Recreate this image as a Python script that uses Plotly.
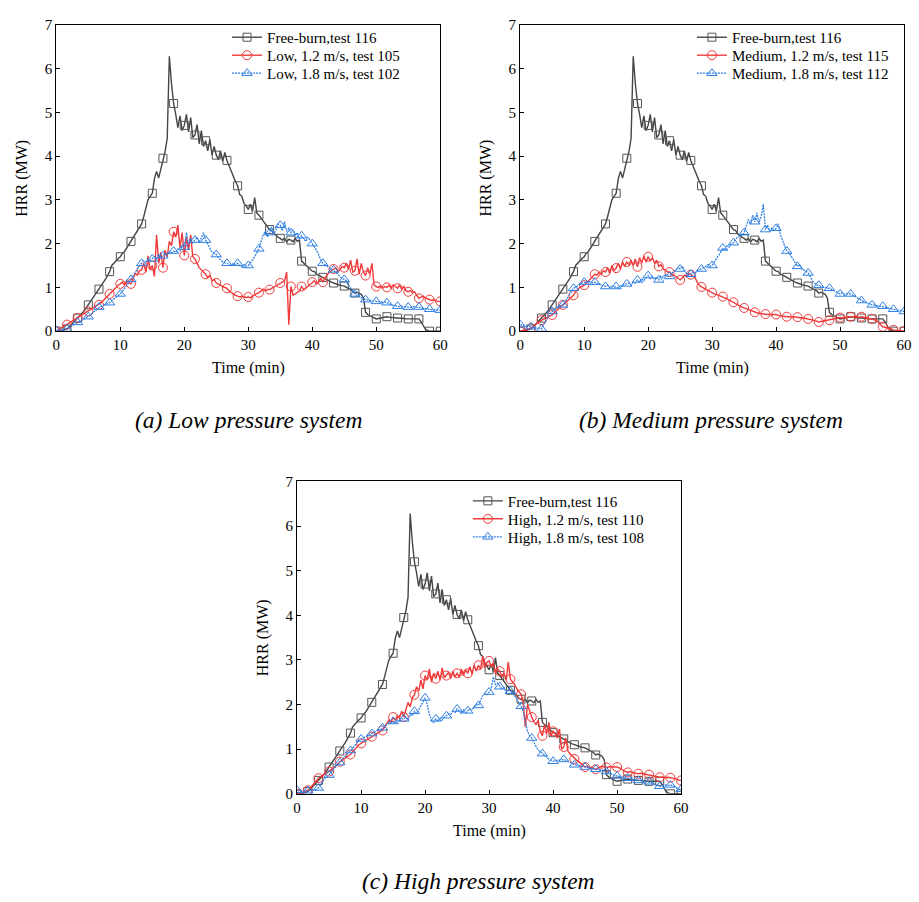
import plotly.graph_objects as go

# Heat release rate (MW) sampled every 20 s from t = 0 to 60 min.
SAMPLE_MIN = 1 / 3
MARK_EVERY = 5  # one symbol every 100 s

FREE_BURN_116 = [
    0.00, 0.00, 0.01, 0.02, 0.03, 0.05, 0.09, 0.14, 0.20, 0.25, 0.30, 0.35, 0.40, 0.46, 0.53,
    0.60, 0.68, 0.76, 0.83, 0.90, 0.96, 1.03, 1.10, 1.18, 1.27, 1.36, 1.50, 1.56, 1.60, 1.66,
    1.70, 1.78, 1.82, 1.90, 1.96, 2.05, 2.12, 2.20, 2.30, 2.36, 2.45, 2.62, 2.82, 3.00, 3.08,
    3.15, 3.48, 3.65, 3.50, 3.72, 3.95, 4.10, 4.40, 6.28, 5.65, 5.20, 4.95, 4.65, 4.92, 4.58,
    4.70, 4.95, 4.55, 4.88, 4.42, 4.48, 4.72, 4.28, 4.58, 4.22, 4.35, 4.12, 4.38, 4.02, 4.22,
    4.02, 3.92, 4.12, 3.88, 4.08, 3.90, 3.78, 3.62, 3.52, 3.42, 3.32, 3.12, 3.08, 2.92, 2.86,
    2.78, 2.90, 2.74, 3.05, 2.70, 2.65, 2.58, 2.52, 2.45, 2.40, 2.32, 2.30, 2.22, 2.20, 2.14,
    2.12, 2.08, 2.12, 2.04, 2.10, 2.08, 2.04, 2.12, 2.05, 2.08, 1.60, 1.55, 1.50, 1.46, 1.40,
    1.37, 1.36, 1.30, 1.28, 1.25, 1.23, 1.20, 1.17, 1.14, 1.12, 1.10, 1.08, 1.07, 1.05, 1.04,
    1.03, 1.00, 0.98, 0.95, 0.92, 0.87, 0.89, 0.86, 0.84, 0.76, 0.43, 0.38, 0.35, 0.32, 0.30,
    0.28, 0.29, 0.30, 0.31, 0.32, 0.33, 0.32, 0.31, 0.31, 0.30, 0.30, 0.30, 0.29, 0.29, 0.28,
    0.28, 0.28, 0.28, 0.29, 0.28, 0.28, 0.22, 0.12, 0.05, 0.02, 0.00, 0.00, 0.00, 0.00, 0.00,
    0.00,
]

LOW_12_TEST_105 = [
    0.00, 0.03, 0.06, 0.10, 0.12, 0.15, 0.18, 0.22, 0.25, 0.28, 0.30, 0.33, 0.36, 0.40, 0.42,
    0.45, 0.48, 0.52, 0.55, 0.57, 0.60, 0.65, 0.70, 0.76, 0.80, 0.85, 0.90, 0.96, 1.00, 1.05,
    1.08, 1.12, 1.05, 1.15, 1.10, 1.08, 1.20, 1.32, 1.28, 1.38, 1.40, 1.55, 1.35, 1.72, 1.40,
    1.50, 1.25, 2.20, 1.55, 1.80, 1.45, 1.85, 1.70, 2.05, 1.95, 2.27, 2.15, 2.42, 1.90, 2.25,
    1.73, 2.15, 1.85, 2.20, 1.70, 1.65, 1.55, 1.45, 1.40, 1.35, 1.30, 1.22, 1.28, 1.15, 1.18,
    1.10, 1.08, 1.05, 1.02, 1.00, 0.98, 0.92, 0.88, 0.85, 0.82, 0.80, 0.78, 0.80, 0.78, 0.77,
    0.78, 0.76, 0.80, 0.84, 0.86, 0.88, 0.92, 0.96, 0.92, 0.95, 0.95, 0.98, 1.00, 1.04, 1.08,
    1.10, 1.12, 1.15, 1.35, 0.15, 1.02, 0.82, 0.85, 0.88, 0.92, 1.02, 0.95, 0.98, 1.02, 1.08,
    1.12, 1.15, 1.08, 1.12, 1.20, 1.12, 1.22, 1.30, 1.35, 1.38, 1.42, 1.45, 1.35, 1.40, 1.48,
    1.45, 1.55, 1.40, 1.62, 1.35, 1.38, 1.65, 1.30, 1.55, 1.35, 1.27, 1.45, 1.30, 1.55, 1.05,
    1.02, 1.00, 1.04, 0.98, 1.02, 1.00, 1.05, 0.98, 1.06, 1.02, 0.98, 1.05, 0.96, 1.02, 0.92,
    0.90, 0.93, 0.88, 0.90, 0.82, 0.75, 0.78, 0.80, 0.76, 0.74, 0.72, 0.70, 0.72, 0.69, 0.68,
    0.68,
]

LOW_18_TEST_102 = [
    0.02, 0.02, 0.03, 0.03, 0.04, 0.05, 0.08, 0.11, 0.14, 0.17, 0.20, 0.23, 0.26, 0.28, 0.30,
    0.33, 0.37, 0.42, 0.46, 0.50, 0.55, 0.57, 0.59, 0.61, 0.63, 0.65, 0.70, 0.74, 0.78, 0.82,
    0.85, 0.92, 0.98, 1.05, 1.12, 1.18, 1.26, 1.35, 1.42, 1.50, 1.55, 1.60, 1.58, 1.65, 1.62,
    1.65, 1.70, 1.66, 1.75, 1.68, 1.72, 1.78, 1.74, 1.82, 1.78, 1.83, 1.80, 1.88, 1.84, 1.95,
    1.92, 2.25, 1.98, 2.12, 2.02, 2.08, 2.15, 2.02, 2.12, 2.25, 2.08, 1.98, 1.90, 1.80, 1.78,
    1.75, 1.68, 1.62, 1.58, 1.56, 1.55, 1.52, 1.50, 1.55, 1.52, 1.55, 1.50, 1.46, 1.52, 1.48,
    1.50, 1.55, 1.62, 1.70, 1.80, 1.88, 2.05, 2.20, 2.28, 2.15, 2.25, 2.38, 2.20, 2.32, 2.45,
    2.42, 2.30, 2.50, 2.28, 2.35, 2.25, 2.32, 2.18, 2.25, 2.10, 2.18, 2.12, 2.05, 2.15, 2.08,
    2.00, 1.92, 1.85, 1.75, 1.62, 1.55, 1.52, 1.48, 1.45, 1.42, 1.40, 1.35, 1.30, 1.25, 1.20,
    1.18, 1.15, 1.05, 0.98, 0.92, 0.85, 0.82, 0.80, 0.76, 0.74, 0.72, 0.71, 0.70, 0.70, 0.69,
    0.68, 0.67, 0.68, 0.66, 0.67, 0.65, 0.63, 0.60, 0.59, 0.58, 0.57, 0.56, 0.57, 0.55, 0.56,
    0.55, 0.54, 0.55, 0.56, 0.55, 0.55, 0.53, 0.52, 0.51, 0.50, 0.50, 0.49, 0.49, 0.48, 0.48,
    0.48,
]

MEDIUM_12_TEST_115 = [
    0.00, 0.01, 0.02, 0.03, 0.05, 0.07, 0.10, 0.14, 0.18, 0.22, 0.25, 0.28, 0.30, 0.33, 0.35,
    0.37, 0.42, 0.47, 0.52, 0.56, 0.60, 0.64, 0.68, 0.73, 0.78, 0.82, 0.90, 0.95, 1.00, 1.02,
    1.05, 1.10, 1.15, 1.20, 1.25, 1.30, 1.28, 1.35, 1.30, 1.38, 1.35, 1.45, 1.32, 1.50, 1.38,
    1.44, 1.55, 1.42, 1.58, 1.48, 1.58, 1.52, 1.62, 1.50, 1.65, 1.47, 1.68, 1.55, 1.72, 1.58,
    1.70, 1.60, 1.68, 1.55, 1.62, 1.48, 1.52, 1.42, 1.40, 1.35, 1.35, 1.30, 1.28, 1.25, 1.20,
    1.17, 1.22, 1.28, 1.25, 1.32, 1.29, 1.25, 1.22, 1.12, 1.05, 1.01, 0.98, 0.95, 0.92, 0.90,
    0.88, 0.85, 0.84, 0.82, 0.80, 0.79, 0.76, 0.74, 0.71, 0.69, 0.66, 0.63, 0.60, 0.58, 0.55,
    0.53, 0.51, 0.49, 0.47, 0.45, 0.43, 0.42, 0.41, 0.40, 0.39, 0.39, 0.38, 0.38, 0.37, 0.38,
    0.38, 0.36, 0.35, 0.34, 0.33, 0.33, 0.33, 0.32, 0.33, 0.32, 0.32, 0.31, 0.30, 0.30, 0.29,
    0.28, 0.27, 0.26, 0.24, 0.23, 0.21, 0.22, 0.23, 0.24, 0.24, 0.25, 0.26, 0.27, 0.28, 0.30,
    0.31, 0.30, 0.32, 0.31, 0.33, 0.33, 0.32, 0.34, 0.33, 0.32, 0.33, 0.32, 0.31, 0.30, 0.29,
    0.28, 0.27, 0.25, 0.20, 0.15, 0.10, 0.09, 0.08, 0.07, 0.05, 0.03, 0.02, 0.01, 0.01, 0.00,
    0.00,
]

MEDIUM_18_TEST_112 = [
    0.15, 0.14, 0.13, 0.12, 0.11, 0.10, 0.09, 0.08, 0.07, 0.06, 0.05, 0.15, 0.25, 0.32, 0.40,
    0.45, 0.50, 0.53, 0.56, 0.58, 0.60, 0.66, 0.74, 0.82, 0.90, 0.98, 1.00, 1.05, 1.08, 1.10,
    1.12, 1.10, 1.15, 1.12, 1.10, 1.12, 1.08, 1.10, 1.05, 1.04, 1.02, 1.05, 1.00, 1.03, 1.00,
    1.02, 0.98, 1.05, 1.02, 1.08, 1.08, 1.10, 1.05, 1.12, 1.10, 1.17, 1.12, 1.20, 1.15, 1.22,
    1.27, 1.20, 1.25, 1.18, 1.24, 1.17, 1.26, 1.22, 1.30, 1.25, 1.25, 1.32, 1.35, 1.40, 1.45,
    1.42, 1.48, 1.38, 1.32, 1.28, 1.30, 1.35, 1.32, 1.38, 1.40, 1.42, 1.45, 1.48, 1.52, 1.48,
    1.50, 1.58, 1.65, 1.72, 1.80, 1.90, 1.85, 1.95, 1.92, 2.00, 2.02, 2.10, 2.15, 2.20, 2.18,
    2.25, 2.40, 2.55, 2.45, 2.65, 2.50, 2.70, 2.48, 2.62, 2.90, 2.32, 2.42, 2.28, 2.35, 2.30,
    2.35, 2.45, 2.20, 2.05, 1.95, 1.83, 1.80, 1.72, 1.65, 1.58, 1.48, 1.52, 1.42, 1.40, 1.36,
    1.33, 1.25, 1.15, 1.10, 1.05, 1.05, 1.02, 1.00, 1.00, 0.98, 0.98, 0.95, 0.92, 0.90, 0.88,
    0.85, 0.88, 0.84, 0.86, 0.85, 0.85, 0.82, 0.80, 0.76, 0.74, 0.70, 0.68, 0.66, 0.64, 0.62,
    0.60, 0.60, 0.58, 0.58, 0.57, 0.57, 0.55, 0.54, 0.52, 0.51, 0.50, 0.49, 0.48, 0.46, 0.45,
    0.45,
]

HIGH_12_TEST_110 = [
    0.00, 0.01, 0.02, 0.04, 0.06, 0.08, 0.12, 0.18, 0.25, 0.30, 0.35, 0.38, 0.42, 0.45, 0.47,
    0.50, 0.55, 0.58, 0.62, 0.68, 0.72, 0.75, 0.78, 0.82, 0.86, 0.88, 0.94, 1.00, 1.05, 1.10,
    1.13, 1.16, 1.18, 1.22, 1.26, 1.28, 1.32, 1.35, 1.38, 1.40, 1.42, 1.50, 1.58, 1.65, 1.60,
    1.72, 1.65, 1.75, 1.70, 1.85, 1.72, 1.90, 2.05, 1.95, 2.15, 2.22, 2.40, 2.30, 2.55, 2.35,
    2.65, 2.55, 2.80, 2.50, 2.70, 2.58, 2.75, 2.55, 2.82, 2.60, 2.65, 2.72, 2.58, 2.75, 2.62,
    2.70, 2.62, 2.80, 2.65, 2.78, 2.70, 2.85, 2.68, 2.88, 2.75, 2.88, 2.80, 3.08, 2.82, 2.95,
    2.98, 2.85, 2.92, 2.70, 2.80, 2.75, 2.62, 2.70, 2.55, 2.95, 2.57, 2.50, 2.45, 2.35, 2.28,
    2.23, 2.05, 1.50, 2.00, 1.85, 1.72, 1.62, 1.55, 1.65, 1.40, 1.30, 1.55, 1.35, 1.60, 1.30,
    1.40, 1.35, 1.25, 1.45, 1.00, 1.05, 1.25, 0.95, 0.90, 0.85, 0.78, 0.75, 0.72, 0.68, 0.65,
    0.60, 0.62, 0.58, 0.60, 0.56, 0.55, 0.58, 0.60, 0.62, 0.60, 0.59, 0.60, 0.61, 0.60, 0.60,
    0.60, 0.58, 0.55, 0.52, 0.50, 0.48, 0.50, 0.48, 0.47, 0.46, 0.45, 0.46, 0.45, 0.44, 0.43,
    0.43, 0.42, 0.41, 0.40, 0.38, 0.37, 0.38, 0.37, 0.36, 0.37, 0.36, 0.35, 0.34, 0.33, 0.30,
    0.30,
]

HIGH_18_TEST_108 = [
    0.08, 0.06, 0.05, 0.05, 0.06, 0.07, 0.08, 0.08, 0.09, 0.10, 0.13, 0.20, 0.28, 0.35, 0.38,
    0.42, 0.48, 0.55, 0.60, 0.65, 0.70, 0.75, 0.80, 0.85, 0.92, 0.97, 1.02, 1.08, 1.15, 1.20,
    1.23, 1.25, 1.28, 1.30, 1.32, 1.35, 1.38, 1.40, 1.45, 1.42, 1.48, 1.52, 1.55, 1.58, 1.60,
    1.62, 1.58, 1.65, 1.62, 1.68, 1.68, 1.72, 1.65, 1.78, 1.75, 1.85, 1.80, 1.88, 1.95, 2.05,
    2.15, 2.00, 1.78, 1.65, 1.60, 1.68, 1.62, 1.70, 1.65, 1.72, 1.75, 1.80, 1.78, 1.85, 1.82,
    1.90, 1.85, 1.80, 1.88, 1.82, 1.86, 1.90, 1.88, 1.95, 2.00, 1.98, 2.10, 2.20, 2.25, 2.22,
    2.28, 2.35, 2.62, 2.45, 2.48, 2.40, 2.35, 2.38, 2.28, 2.32, 2.30, 2.25, 2.20, 2.12, 2.05,
    1.96, 1.85, 1.62, 1.40, 1.30, 1.25, 1.15, 1.05, 0.98, 0.95, 0.90, 0.85, 0.82, 0.78, 0.75,
    0.73, 0.74, 0.75, 0.76, 0.77, 0.77, 0.75, 0.72, 0.70, 0.68, 0.65, 0.64, 0.62, 0.61, 0.60,
    0.60, 0.59, 0.58, 0.57, 0.56, 0.55, 0.54, 0.54, 0.53, 0.52, 0.50, 0.48, 0.45, 0.43, 0.41,
    0.40, 0.38, 0.37, 0.36, 0.35, 0.35, 0.34, 0.33, 0.32, 0.31, 0.30, 0.30, 0.29, 0.28, 0.28,
    0.27, 0.25, 0.22, 0.20, 0.18, 0.17, 0.16, 0.18, 0.20, 0.19, 0.20, 0.18, 0.15, 0.12, 0.10,
    0.10,
]

X_TICKS = [0, 10, 20, 30, 40, 50, 60]
Y_TICKS = [0, 1, 2, 3, 4, 5, 6, 7]

PANELS = [
    dict(
        title="(a) Low pressure system",
        series=[
            ("Free-burn,test 116", FREE_BURN_116),
            ("Low, 1.2 m/s, test 105", LOW_12_TEST_105),
            ("Low, 1.8 m/s, test 102", LOW_18_TEST_102),
        ],
    ),
    dict(
        title="(b) Medium pressure system",
        series=[
            ("Free-burn,test 116", FREE_BURN_116),
            ("Medium, 1.2 m/s, test 115", MEDIUM_12_TEST_115),
            ("Medium, 1.8 m/s, test 112", MEDIUM_18_TEST_112),
        ],
    ),
    dict(
        title="(c) High pressure system",
        series=[
            ("Free-burn,test 116", FREE_BURN_116),
            ("High, 1.2 m/s, test 110", HIGH_12_TEST_110),
            ("High, 1.8 m/s, test 108", HIGH_18_TEST_108),
        ],
    ),
]

# ---- styling -------------------------------------------------------------
W, H = 919, 902
SERIF = "Liberation Serif, Times New Roman, serif"
STYLES = [
    dict(color="#454545", mcolor="#555555", symbol="square-open", size=8,
         dash="solid", width=1.4),
    dict(color="#f03a3a", mcolor="#f03a3a", symbol="circle-open", size=9,
         dash="solid", width=1.4),
    dict(color="#2f7fe4", mcolor="#2f7fe4", symbol="triangle-up-open", size=9,
         dash="2px,1px", width=1.3),
]

# plot-area boxes in pixels: (left, right, top, bottom)
BOXES = [(53, 442, 17, 329), (523, 912, 17, 329), (297, 686, 482, 800)]
# legend anchor: left edge of the key line, centre of the first row
LEGEND_POS = [(226, 30), (697, 30), (470, 502)]
LEGEND_PITCH = 18.3
TITLE_POS = [(248, 419), (716, 419), (481, 889)]


def px_x(v):
    return v / W


def px_y(v):
    return 1 - v / H


fig = go.Figure()
layout = dict(
    width=W,
    height=H,
    margin=dict(l=0, r=0, t=0, b=0),
    paper_bgcolor="white",
    plot_bgcolor="white",
    font=dict(family=SERIF, color="black"),
    showlegend=True,
    annotations=[],
)

legend_count = 0
for k, panel in enumerate(PANELS):
    suffix = "" if k == 0 else str(k + 1)
    left, right, top, bottom = BOXES[k]
    lx, ly = LEGEND_POS[k]

    for j, ((name, values), st) in enumerate(zip(panel["series"], STYLES)):
        legend_count += 1
        legend_id = "legend" if legend_count == 1 else "legend%d" % legend_count
        n = len(values)
        t = [i * SAMPLE_MIN for i in range(n)]
        mcol = [st["mcolor"] if i % MARK_EVERY == 0 else "rgba(0,0,0,0)" for i in range(n)]
        fig.add_trace(
            go.Scatter(
                x=t,
                y=values,
                name=name,
                mode="lines+markers",
                line=dict(color=st["color"], width=st["width"], dash=st["dash"]),
                marker=dict(symbol=st["symbol"], size=st["size"], color=mcol,
                            line=dict(width=1)),
                xaxis="x" + suffix,
                yaxis="y" + suffix,
                legend=legend_id,
                showlegend=True,
                hoverinfo="skip",
            )
        )
        layout[legend_id] = dict(
            x=px_x(lx),
            y=px_y(ly + j * LEGEND_PITCH),
            xanchor="left",
            yanchor="middle",
            bgcolor="rgba(0,0,0,0)",
            borderwidth=0,
            font=dict(family=SERIF, size=15, color="black"),
        )

    axis_common = dict(
        showline=True,
        linecolor="black",
        linewidth=1.3,
        mirror=True,
        ticks="inside",
        ticklen=4,
        tickwidth=1,
        tickcolor="black",
        showgrid=False,
        zeroline=False,
        tickfont=dict(family=SERIF, size=15, color="black"),
    )
    layout["xaxis" + suffix] = dict(
        axis_common,
        range=[0, 60],
        tickvals=X_TICKS,
        domain=[px_x(left), px_x(right)],
        anchor="y" + suffix,
    )
    layout["yaxis" + suffix] = dict(
        axis_common,
        range=[0, 7],
        tickvals=Y_TICKS,
        domain=[px_y(bottom), px_y(top)],
        anchor="x" + suffix,
    )

    # axis titles
    layout["annotations"].append(dict(
        text="HRR (MW)", textangle=-90, showarrow=False,
        x=px_x(left - 35), y=px_y((top + bottom) / 2),
        xref="paper", yref="paper", xanchor="center", yanchor="middle",
        font=dict(family=SERIF, size=16, color="black"),
    ))
    layout["annotations"].append(dict(
        text="Time (min)", showarrow=False,
        x=px_x((left + right) / 2), y=px_y(bottom + 38),
        xref="paper", yref="paper", xanchor="center", yanchor="middle",
        font=dict(family=SERIF, size=16, color="black"),
    ))
    # panel caption
    tx, ty = TITLE_POS[k]
    layout["annotations"].append(dict(
        text="<i>" + panel["title"] + "</i>", showarrow=False,
        x=px_x(tx), y=px_y(ty),
        xref="paper", yref="paper", xanchor="center", yanchor="middle",
        font=dict(family=SERIF, size=23.5, color="black"),
    ))

fig.update_layout(**layout)
fig.write_html("out.html")
